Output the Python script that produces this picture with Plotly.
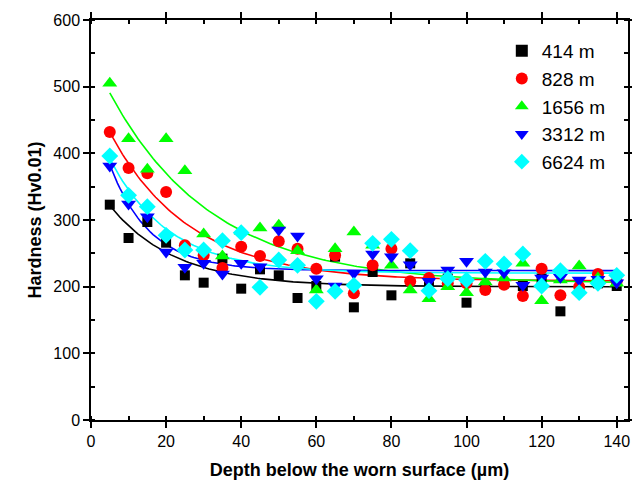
import numpy as np
import plotly.graph_objects as go

depth = [5, 10, 15, 20, 25, 30, 35, 40, 45, 50, 55, 60, 65, 70, 75, 80, 85, 90, 95, 100,
         105, 110, 115, 120, 125, 130, 135, 140]

h_414 = [323, 273, 297, 266, 217, 206, 242, 197, 226, 217, 183, 201, 245, 169, 222, 187,
         235, 208, 212, 176, 200, 205, 201, 212, 163, 195, 205, 201]
h_828 = [432, 378, 370, 342, 262, 247, 228, 260, 246, 268, 257, 227, 247, 190, 232, 257,
         208, 213, 205, 205, 195, 203, 186, 227, 187, 200, 219, 208]
h_1656 = [505, 422, 376, 422, 374, 279, 246, 283, 288, 292, 254, 195, 257, 282, 262, 232,
          195, 182, 200, 191, 207, 213, 235, 179, 210, 231, 213, 205]
h_3312 = [381, 324, 305, 252, 229, 235, 219, 235, 230, 285, 276, 212, 201, 220, 249, 245,
          233, 208, 225, 238, 222, 221, 202, 213, 214, 210, 211, 206]
h_6624 = [396, 337, 320, 277, 255, 255, 269, 281, 199, 240, 232, 178, 193, 202, 265, 271,
          254, 194, 212, 210, 238, 234, 249, 201, 224, 191, 205, 217]

names = ["414 m", "828 m", "1656 m", "3312 m", "6624 m"]
series = [h_414, h_828, h_1656, h_3312, h_6624]
colors = ["#000000", "#FF0000", "#00FF00", "#0000FF", "#00FFFF"]
symbols = ["square", "circle", "triangle-up", "triangle-down", "diamond"]
sizes = [10, 12, 13, 13, 13]


def exp_fit(x, y):
    x = np.asarray(x, float)
    y = np.asarray(y, float)
    best = None
    for t in np.arange(2.0, 80.0, 0.1):
        B = np.column_stack([np.ones_like(x), np.exp(-x / t)])
        coef, *_ = np.linalg.lstsq(B, y, rcond=None)
        sse = float(np.sum((B @ coef - y) ** 2))
        if best is None or sse < best[0]:
            best = (sse, coef, t)
    _, coef, t = best
    xf = np.linspace(min(x), max(x), 200)
    return xf, coef[0] + coef[1] * np.exp(-xf / t)


fig = go.Figure()
for name, y, c, s, sz in zip(names, series, colors, symbols, sizes):
    xf, yf = exp_fit(depth, y)
    fig.add_trace(go.Scatter(x=xf, y=yf, mode="lines", line=dict(color=c, width=1.6),
                             showlegend=False, hoverinfo="skip"))
for name, y, c, s, sz in zip(names, series, colors, symbols, sizes):
    fig.add_trace(go.Scatter(x=depth, y=y, mode="markers", name=name,
                             marker=dict(symbol=s, color=c, size=sz, line=dict(width=0))))

font_family = "Liberation Sans"
fig.update_layout(
    width=632, height=476,
    margin=dict(l=83, r=12, t=12, b=64),
    paper_bgcolor="white", plot_bgcolor="white",
    font=dict(family=font_family, size=16, color="black"),
    showlegend=True,
    legend=dict(x=0.765, y=0.97, xanchor="left", yanchor="top", itemsizing="constant",
                font=dict(size=19, family=font_family), bgcolor="rgba(0,0,0,0)"),
    xaxis=dict(range=[0, 143], tickvals=[0, 20, 40, 60, 80, 100, 120, 140],
               ticks="outside", ticklen=6, tickwidth=1.5, tickcolor="black",
               minor=dict(dtick=10, tick0=0, ticks="inside", ticklen=4, tickwidth=1.5, tickcolor="black"),
               showline=True, linecolor="black", linewidth=1.5, mirror="ticks",
               showgrid=False, zeroline=False, automargin=False,
               title=dict(text="<b>Depth below the worn surface (µm)</b>", font=dict(size=18), standoff=14)),
    yaxis=dict(range=[0, 600], tickvals=[0, 100, 200, 300, 400, 500, 600],
               ticks="outside", ticklen=6, tickwidth=1.5, tickcolor="black",
               minor=dict(dtick=50, tick0=0, ticks="inside", ticklen=4, tickwidth=1.5, tickcolor="black"),
               showline=True, linecolor="black", linewidth=1.5, mirror="ticks",
               showgrid=False, zeroline=False, automargin=False,
               title=dict(text="<b>Hardness (Hv0.01)</b>", font=dict(size=18), standoff=7)),
)

fig.write_html("out.html")
